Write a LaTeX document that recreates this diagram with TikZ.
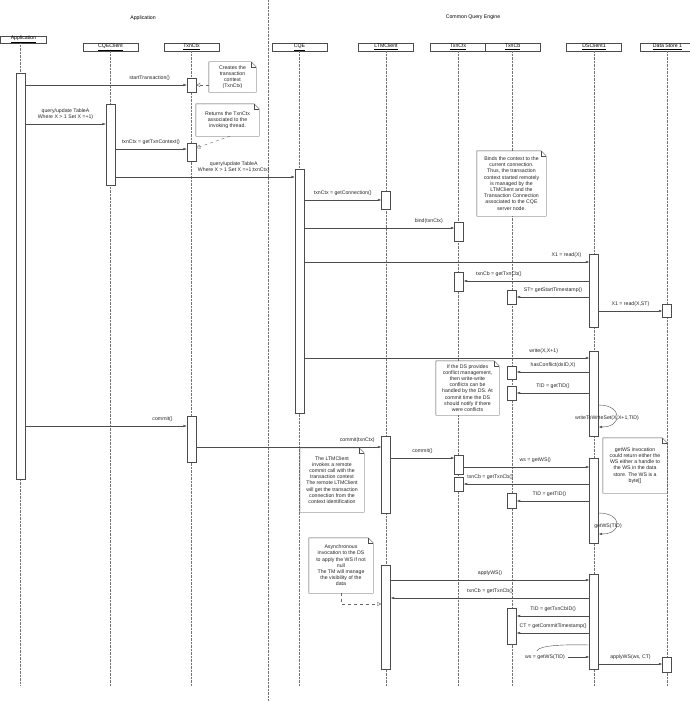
\documentclass[tikz,border=0pt]{standalone}
\usepackage{fontspec}
\setmainfont{Liberation Sans}
\usetikzlibrary{arrows.meta,positioning,calc}

% note outline with folded corner
\newcommand{\dogear}[1]{%
  \draw[notebox] (#1.north west) -- ([xshift=-5pt]#1.north east) -- ([yshift=-5pt]#1.north east) -- (#1.south east) -- (#1.south west) -- cycle;
  \draw[notebox] ([xshift=-5pt]#1.north east) |- ([yshift=-5pt]#1.north east);}

\begin{document}
\begin{tikzpicture}[x=1pt, y=-1pt,
    font=\fontsize{5.2}{6.2}\selectfont,
    head/.style={draw=black!70, fill=white, minimum width=55pt, minimum height=7.5pt, inner sep=0pt},
    actbox/.style={draw=black!70, fill=white, minimum width=9pt, inner sep=0pt, anchor=north},
    life/.style={black!55, densely dotted},
    msg/.style={black!70, -{Latex[length=3.5pt,width=2.5pt]}},
    lbl/.style={above=4pt, inner sep=0pt, align=center, text=black!85},
    notebox/.style={black!70},
    note/.style={fill=white, align=center, inner sep=0pt, text=black!85},
    notearrow/.style={black!60, dashed, -{Triangle[open,length=4pt,width=4pt]}}]
    \useasboundingbox (0,0) rectangle (690,701);

    % titles and divider
    \node (tApp) at (143,18) {Application};
    \node (tCqe) at (473,17) {Common Query Engine};
    \draw[life] (268.5,0) -- (268.5,701);

    % participants
    \node[head, minimum width=46pt] (hApp) at (23.5,39.5) {\underline{Application}};
    \node[head] (hCl) at (110.5,47) {\underline{CQEClient}};
    \node[head] (hCtx) at (191.5,47) {\underline{TxnCtx}};
    \node[head] (hCqe) at (299.5,47) {\underline{CQE}};
    \node[head] (hLtm) at (386,47) {\underline{LTMClient}};
    \node[head] (hTctx) at (458,47) {\underline{TxnCtx}};
    \node[head] (hTcb) at (512.5,47) {\underline{TxnCb}};
    \node[head] (hDs) at (594,47) {\underline{DSClient1}};
    \node[head] (hDst) at (667.5,47) {\underline{Data Store 1}};

    % lifelines
    \draw[life] (hApp.south -| 20.5,0) -- (20.5,686);
    \foreach \h in {hCl,hCtx,hCqe,hLtm,hTctx,hTcb,hDs,hDst}
        \draw[life] (\h.south) -- (\h.south |- 0,686);

    % activations
    \node[actbox, minimum height=406pt] (appA) at (20.5,73) {};
    \node[actbox, minimum height=81pt] (clA) at (110.5,104) {};
    \node[actbox, minimum height=14pt] (ctxA) at (191.5,78) {};
    \node[actbox, minimum height=18pt] (ctxB) at (191.5,143) {};
    \node[actbox, minimum height=46pt] (ctxC) at (191.5,416) {};
    \node[actbox, minimum height=244pt] (cqeA) at (299.5,169) {};
    \node[actbox, minimum height=18pt] (ltmA) at (386,191) {};
    \node[actbox, minimum height=77pt] (ltmB) at (386,436) {};
    \node[actbox, minimum height=104pt] (ltmC) at (386,565) {};
    \node[actbox, minimum height=19pt] (tctxA) at (459,222) {};
    \node[actbox, minimum height=19pt] (tctxB) at (459,272) {};
    \node[actbox, minimum height=19pt] (tctxC) at (459,455) {};
    \node[actbox, minimum height=14pt] (tctxD) at (459,477) {};
    \node[actbox, minimum height=14pt] (tcbA) at (512,290) {};
    \node[actbox, minimum height=13pt] (tcbB) at (512,366) {};
    \node[actbox, minimum height=14pt] (tcbC) at (512,386) {};
    \node[actbox, minimum height=15pt] (tcbD) at (512,493) {};
    \node[actbox, minimum height=36pt] (tcbE) at (512,608) {};
    \node[actbox, minimum height=73pt] (dsA) at (594,254) {};
    \node[actbox, minimum height=85pt] (dsB) at (594,351) {};
    \node[actbox, minimum height=85pt] (dsC) at (594,458) {};
    \node[actbox, minimum height=95pt] (dsD) at (594,574) {};
    \node[actbox, minimum height=13pt] (dstA) at (667,304) {};
    \node[actbox, minimum height=15pt] (dstB) at (667,657) {};

    % notes
    \node[note, minimum width=47pt, minimum height=30pt] (nCreate) at (232.5,77) {Creates the\\transaction\\context\\(TxnCtx)};
    \dogear{nCreate}
    \node[note, minimum width=63pt, minimum height=32pt] (nReturn) at (227.5,120) {Returns the TxnCtx\\associated to the\\invoking thread.};
    \dogear{nReturn}
    \node[note, minimum width=69pt, minimum height=65pt] (nBind) at (511.5,183.5) {Binds the context to the\\current connection.\\Thus, the transaction\\context started remotely\\is managed by the\\LTMClient and the\\Transaction Connection\\associated to the CQE\\server node.};
    \dogear{nBind}
    \node[note, minimum width=63pt, minimum height=54pt] (nConflict) at (467.5,388) {If the DS provides\\conflict management,\\then write-write\\conflicts can be\\handled by the DS. At\\commit time the DS\\should notify if there\\were conflicts};
    \dogear{nConflict}
    \node[note, minimum width=64pt, minimum height=64pt] (nLtm) at (332,480) {The LTMClient\\invokes a remote\\commit call with the\\transaction context\\The remote LTMClient\\will get the transaction\\connection from the\\context identification};
    \dogear{nLtm}
    \node[note, minimum width=64pt, minimum height=55pt] (nGetWS) at (635,465.5) {getWS invocation\\could return either the\\WS either a handle to\\the WS in the data\\store. The WS is a\\byte[]};
    \dogear{nGetWS}
    \node[note, minimum width=64pt, minimum height=55pt] (nAsync) at (341,565.5) {Asynchronous\\invocation to the DS\\to apply the WS if not\\null\\The TM will manage\\the visibility of the\\data};
    \dogear{nAsync}

    \draw[notearrow] (nCreate.west |- 0,85) -- (ctxA.east |- 0,85);
    \draw[notearrow] (nReturn.south -| 230,0) -- (ctxB.east |- 0,148);
    \draw[notearrow] (nAsync.south) |- (ltmC.west |- 0,604);

    % start of the transaction
    \draw[msg] (appA.east |- 0,85) -- (ctxA.west |- 0,85) node[lbl, pos=.77] {startTransaction()};
    \draw[msg] (appA.east |- 0,124) -- (clA.west |- 0,124) node[lbl, midway] {query/update TableA\\Where X > 1 Set X =+1)};
    \draw[msg] (clA.east |- 0,149) -- (ctxB.west |- 0,149) node[lbl, midway] {txnCtx = getTxnContext()};
    \draw[msg] (clA.east |- 0,177) -- (cqeA.west |- 0,177) node[lbl, pos=.66] {query/update TableA\\Where X > 1 Set X =+1;txnCtx)};

    % read and write inside the CQE
    \draw[msg] (cqeA.east |- 0,200) -- (ltmA.west |- 0,200) node[lbl, midway] {txnCtx = getConnection()};
    \draw[msg] (cqeA.east |- 0,228) -- (tctxA.west |- 0,228) node[lbl, pos=.83] {bind(txnCtx)};
    \draw[msg] (cqeA.east |- 0,262) -- (dsA.west |- 0,262) node[lbl, pos=.92] {X1 = read(X)};
    \draw[msg] (dsA.west |- 0,281) -- (tctxB.east |- 0,281) node[lbl, pos=.72] {txnCb = getTxnCb()};
    \draw[msg] (dsA.west |- 0,297) -- (tcbA.east |- 0,297) node[lbl, midway] {ST= getStartTimestamp()};
    \draw[msg] (dsA.east |- 0,311) -- (dstA.west |- 0,311) node[lbl, midway] {X1 = read(X,ST)};
    \draw[msg] (cqeA.east |- 0,358) -- (dsB.west |- 0,358) node[lbl, pos=.84] {write(X,X+1)};
    \draw[msg] (dsB.west |- 0,372) -- (tcbB.east |- 0,372) node[lbl, midway] {hasConflict(dsID,X)};
    \draw[msg] (dsB.west |- 0,393) -- (tcbC.east |- 0,393) node[lbl, midway] {TID = getTID()};
    \draw[msg] (dsB.east |- 0,405) .. controls +(24,0) and +(24,0) .. (dsB.east |- 0,427);
    \node[text=black!85] (wwL) at (607,418) {writeToWriteSet(X,X+1,TID)};

    % commit
    \draw[msg] (appA.east |- 0,426) -- (ctxC.west |- 0,426) node[lbl, pos=.85] {commit()};
    \draw[msg] (ctxC.east |- 0,447) -- (ltmB.west |- 0,447) node[lbl, pos=.87] {commit(txnCtx)};
    \draw[msg] (ltmB.east |- 0,458) -- (tctxC.west |- 0,458) node[lbl, midway] {commit()};
    \draw[msg] (tctxC.east |- 0,467) -- (dsC.west |- 0,467) node[lbl, pos=.57] {ws = getWS()};
    \draw[msg] (dsC.west |- 0,484) -- (tctxD.east |- 0,484) node[lbl, pos=.79] {txnCb = getTxnCb()};
    \draw[msg] (dsC.west |- 0,501) -- (tcbD.east |- 0,501) node[lbl, pos=.55] {TID = getTID()};
    \draw[msg] (dsC.east |- 0,513) .. controls +(24,0) and +(24,0) .. (dsC.east |- 0,534);
    \node[text=black!85] (gwL) at (608,526) {getWS(TID)};

    % apply the write set
    \draw[msg] (ltmC.east |- 0,580) -- (dsD.west |- 0,580) node[lbl, midway] {applyWS()};
    \draw[msg] (dsD.west |- 0,598) -- (ltmC.east |- 0,598) node[lbl, midway] {txnCb = getTxnCb()};
    \draw[msg] (dsD.west |- 0,616) -- (tcbE.east |- 0,616) node[lbl, midway] {TID = getTxnCbID()};
    \draw[msg] (dsD.west |- 0,633) -- (tcbE.east |- 0,633) node[lbl, midway] {CT = getCommitTimestamp()};
    \node[text=black!85] (wsL) at (545,657) {ws = getWS(TID)};
    \draw[black!70] (dsD.west |- 0,645) .. controls (552,644) and (538,647) .. (537,651);
    \draw[msg] (wsL.east) -- (dsD.west |- wsL.east);
    \draw[msg] (dsD.east |- 0,664) -- (dstB.west |- 0,664) node[lbl, midway] {applyWS(ws, CT)};
\end{tikzpicture}
\end{document}
